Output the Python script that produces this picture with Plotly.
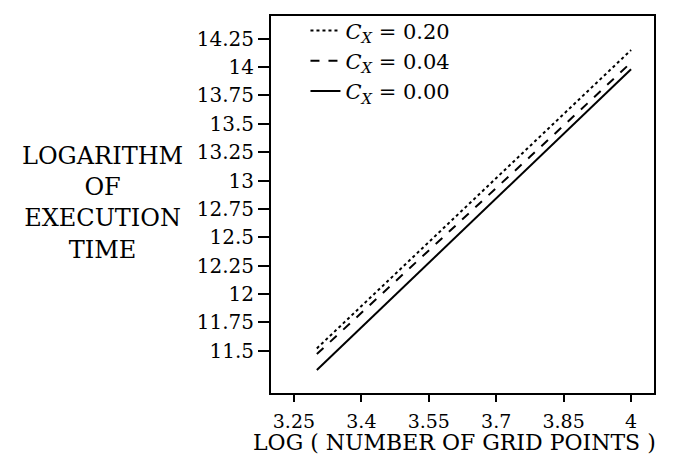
import plotly.graph_objects as go

log_grid = [3.301, 3.602, 3.778, 3.903, 4.0]
t_c020 = [11.52, 12.65, 13.31, 13.78, 14.15]
t_c004 = [11.47, 12.57, 13.22, 13.68, 14.04]
t_c000 = [11.33, 12.47, 13.14, 13.61, 13.98]
series_names = ["<i>C<sub>X</sub></i> = 0.20", "<i>C<sub>X</sub></i> = 0.04", "<i>C<sub>X</sub></i> = 0.00"]
x_ticks = [3.25, 3.4, 3.55, 3.7, 3.85, 4]
x_tick_text = ["3.25", "3.4", "3.55", "3.7", "3.85", "4"]
y_ticks = [11.5, 11.75, 12, 12.25, 12.5, 12.75, 13, 13.25, 13.5, 13.75, 14, 14.25]
y_tick_text = ["11.5", "11.75", "12", "12.25", "12.5", "12.75", "13", "13.25", "13.5", "13.75", "14", "14.25"]

FONT = "DejaVu Serif"
fig = go.Figure()
for ys, name, dash in [(t_c020, series_names[0], "dot"), (t_c004, series_names[1], "dash"), (t_c000, series_names[2], "solid")]:
    fig.add_trace(go.Scatter(x=log_grid, y=ys, mode="lines", name=name,
                             line=dict(color="black", width=2, dash=dash)))

fig.update_layout(
    width=675, height=460,
    margin=dict(l=271, r=21, t=10, b=67),
    paper_bgcolor="white", plot_bgcolor="white",
    font=dict(family=FONT, color="black", size=20),
    showlegend=True,
    legend=dict(x=0.09, y=1.015, xanchor="left", yanchor="top", bgcolor="rgba(0,0,0,0)",
                font=dict(family=FONT, size=21), tracegroupgap=0),
    xaxis=dict(range=[3.199, 4.051], tickvals=x_ticks, ticktext=x_tick_text,
               ticks="outside", ticklen=7, tickwidth=2, tickcolor="black",
               ticklabelstandoff=3,
               showline=True, linewidth=2, linecolor="black", mirror=True,
               showgrid=False, zeroline=False, tickfont=dict(size=19, family=FONT)),
    yaxis=dict(range=[11.127, 14.45], tickvals=y_ticks, ticktext=y_tick_text,
               ticks="outside", ticklen=11, tickwidth=2, tickcolor="black",
               showline=True, linewidth=2, linecolor="black", mirror=True,
               showgrid=False, zeroline=False, tickfont=dict(size=20, family=FONT)),
)
fig.add_annotation(text="LOG ( NUMBER OF GRID POINTS )", xref="paper", yref="paper",
                   x=0.48, y=-0.17, xanchor="center", yanchor="bottom", showarrow=False,
                   font=dict(size=22, family=FONT))
fig.add_annotation(text="LOGARITHM<br>OF<br>EXECUTION<br>TIME", xref="paper", yref="paper",
                   x=-0.44, y=0.505, xanchor="center", yanchor="middle", showarrow=False,
                   align="center", font=dict(size=24, family=FONT))
fig.write_html("out.html")
